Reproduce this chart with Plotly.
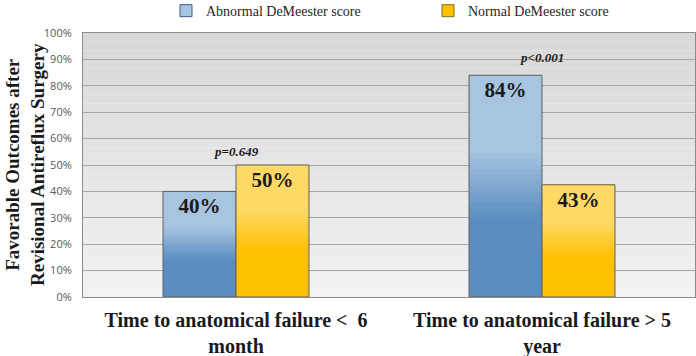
import plotly.graph_objects as go

categories = ["Time to anatomical failure <  6<br>month", "Time to anatomical failure > 5<br>year"]
series_names = ["Abnormal DeMeester score", "Normal DeMeester score"]
abnormal = [40, 84]
normal = [50, 42.5]
bar_labels = [["40%", "84%"], ["50%", "43%"]]
p_values = ["p=0.649", "p<0.001"]
y_ticks = [0, 10, 20, 30, 40, 50, 60, 70, 80, 90, 100]
y_tick_labels = ["0%", "10%", "20%", "30%", "40%", "50%", "60%", "70%", "80%", "90%", "100%"]
y_title = "Favorable Outcomes after<br>Revisional Antireflux Surgery"

dark = [(91, 141, 192), (255, 192, 0)]
light = [(167, 196, 224), (255, 217, 102)]
legend_fill = ["#A7C4E0", "#FFC000"]
legend_line = ["#3B5E86", "#7F6A2A"]

SERIF = "Liberation Serif"
N = 40
L, R, T, B = 83, 1, 33, 59
PW = 696 - L - R


def mix(c1, c2, t):
    return "rgb(%d,%d,%d)" % tuple(round(a + (b - a) * t) for a, b in zip(c1, c2))


def grad(f, c_dark, c_light):
    lo, hi = 0.35, 0.66
    if f <= lo:
        t = 0
    elif f >= hi:
        t = 1
    else:
        t = (f - lo) / (hi - lo)
    return mix(c_dark, c_light, t)


fig = go.Figure()

for s, vals in enumerate([abnormal, normal]):
    og = "g%d" % s
    # legend entry
    fig.add_trace(go.Bar(x=[categories[0]], y=[None], name=series_names[s], offsetgroup=og,
                         marker=dict(color=legend_fill[s], line=dict(color=legend_line[s], width=1)),
                         showlegend=True, hoverinfo="skip"))
    for k in range(N):
        f = k / N
        fig.add_trace(go.Bar(x=categories, y=[v * (1 - f) for v in vals], base=[v * f for v in vals],
                             offsetgroup=og, showlegend=False, hoverinfo="skip",
                             marker=dict(color=grad(f + 0.5 / N, dark[s], light[s]), line=dict(width=0))))
    fig.add_trace(go.Bar(x=categories, y=vals, offsetgroup=og, showlegend=False,
                         text=bar_labels[s], textposition="inside", insidetextanchor="end",
                         textangle=0, constraintext="none",
                         textfont=dict(family=SERIF, size=21, color="#1a1a1a", weight="bold"),
                         marker=dict(color="rgba(0,0,0,0)", line=dict(color="#5f5f5f", width=1)),
                         name=series_names[s]))

for i, cat in enumerate(categories):
    top = max(abnormal[i], normal[i])
    fig.add_annotation(x=cat, y=top, yshift=[13, 17][i] + 1, text="<b><i>%s</i></b>" % p_values[i],
                       showarrow=False, font=dict(family=SERIF, size=13, color="#1a1a1a"))

# y-axis title
fig.add_annotation(xref="paper", yref="paper", x=(25 - L) / PW, y=0.5, xanchor="center", yanchor="middle",
                   text="<b>%s</b>" % y_title, textangle=-90, showarrow=False, align="center",
                   font=dict(family=SERIF, size=19, color="#1a1a1a"))

# plot background gradient
NB = 30
for k in range(NB):
    fig.add_shape(type="rect", xref="x domain", yref="y domain", x0=0, x1=1,
                  y0=k / NB, y1=(k + 1) / NB, layer="below", line=dict(width=0),
                  fillcolor=mix((242, 242, 242), (216, 216, 216), (k + 0.5) / NB))

fig.update_layout(
    width=696, height=356,
    margin=dict(l=L, r=R, t=T, b=B, autoexpand=False),
    paper_bgcolor="white", plot_bgcolor="rgba(0,0,0,0)",
    barmode="group", bargap=0.523, bargroupgap=0,
    legend=dict(orientation="h", xref="container", x=166 / 696, xanchor="left",
                yref="paper", y=1.083, yanchor="middle", entrywidth=217, entrywidthmode="pixels",
                font=dict(family=SERIF, size=14, color="#262626"), bgcolor="rgba(0,0,0,0)",
                traceorder="normal"),
    showlegend=True,
)
fig.update_xaxes(showline=True, linecolor="#8c8c8c", mirror=True, showgrid=False, ticks="",
                 ticklabelstandoff=5,
                 tickfont=dict(family=SERIF, size=20, color="#1a1a1a", weight="bold"))
fig.update_yaxes(range=[0, 100], tickvals=y_ticks, ticktext=y_tick_labels, showline=True,
                 linecolor="#8c8c8c", mirror=True, gridcolor="#a6a6a6", gridwidth=1, zeroline=False,
                 ticks="outside", ticklen=8, tickcolor="rgba(0,0,0,0)",
                 tickfont=dict(family="Open Sans", size=11, color="#595959"))

fig.write_html("out.html")
